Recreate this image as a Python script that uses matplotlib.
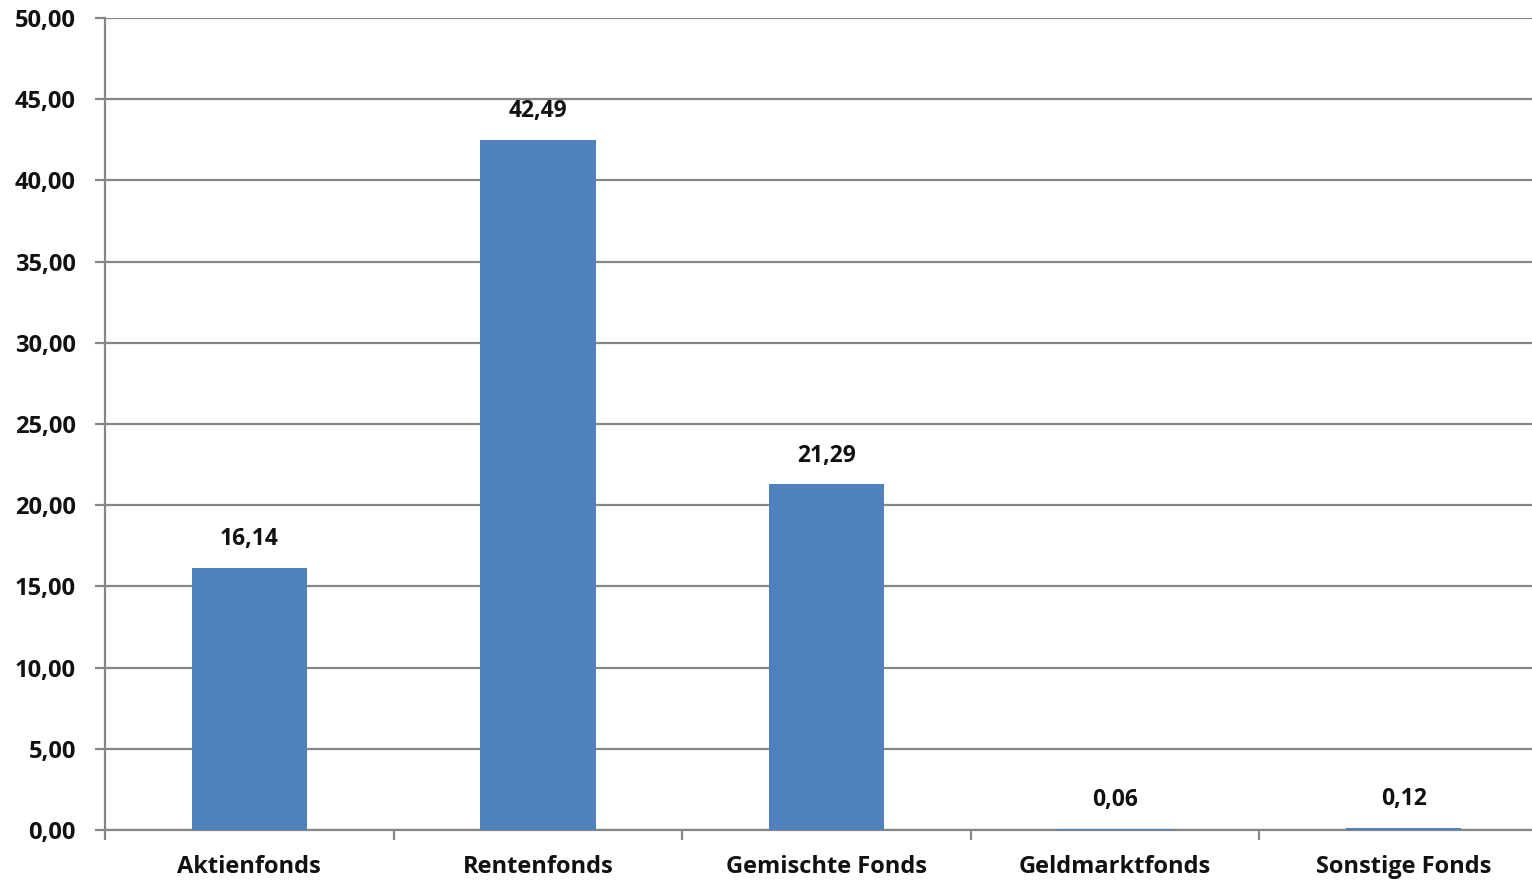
import matplotlib.pyplot as plt
import numpy as np

kategorien = ['Aktienfonds', 'Rentenfonds', 'Gemischte Fonds', 'Geldmarktfonds', 'Sonstige Fonds']
werte = [16.14, 42.49, 21.29, 0.06, 0.12]
y_ticks = [0, 5, 10, 15, 20, 25, 30, 35, 40, 45, 50]

plt.rcParams['font.family'] = ['Open Sans', 'DejaVu Sans']
plt.rcParams['font.weight'] = 'bold'

fig = plt.figure(figsize=(15.32, 8.82), dpi=100)
ax = fig.add_axes([105 / 1532, 1 - 830 / 882, 1 - 105 / 1532, (830 - 18) / 882])

grau = '#868686'
x = np.arange(len(kategorien))
bars = ax.bar(x, werte, width=0.40, color='#4F81BD', zorder=3)

for xi, v in zip(x, werte):
    ax.annotate(f'{v:.2f}'.replace('.', ','), (xi, v), xytext=(0, 12), textcoords='offset points',
                ha='center', va='bottom', fontsize=16.5, fontweight='bold', color='#111111')

# die letzte Kategorie ragt rechts etwas über den Plotbereich hinaus
ax.set_xlim(-0.5, 4.445)
ax.set_ylim(0, 50)
ax.set_yticks(y_ticks)
ax.set_yticklabels([f'{t:.2f}'.replace('.', ',') for t in y_ticks])
ax.set_xticks(x)
ax.set_xticklabels(kategorien)
ax.set_xticks(np.arange(-0.5, len(kategorien) - 1), minor=True)

ax.yaxis.grid(True, color=grau, linewidth=1.6, zorder=0)
ax.tick_params(axis='y', length=7, width=1.6, color=grau, labelsize=17, pad=14, labelcolor='#111111')
ax.tick_params(axis='x', which='major', length=0, labelsize=17, pad=18, labelcolor='#111111')
ax.tick_params(axis='x', which='minor', length=7, width=1.6, color=grau)

for s in ['top', 'right']:
    ax.spines[s].set_visible(False)
for s in ['left', 'bottom']:
    ax.spines[s].set_color(grau)
    ax.spines[s].set_linewidth(1.6)

fig.savefig('out.png', dpi=100)
